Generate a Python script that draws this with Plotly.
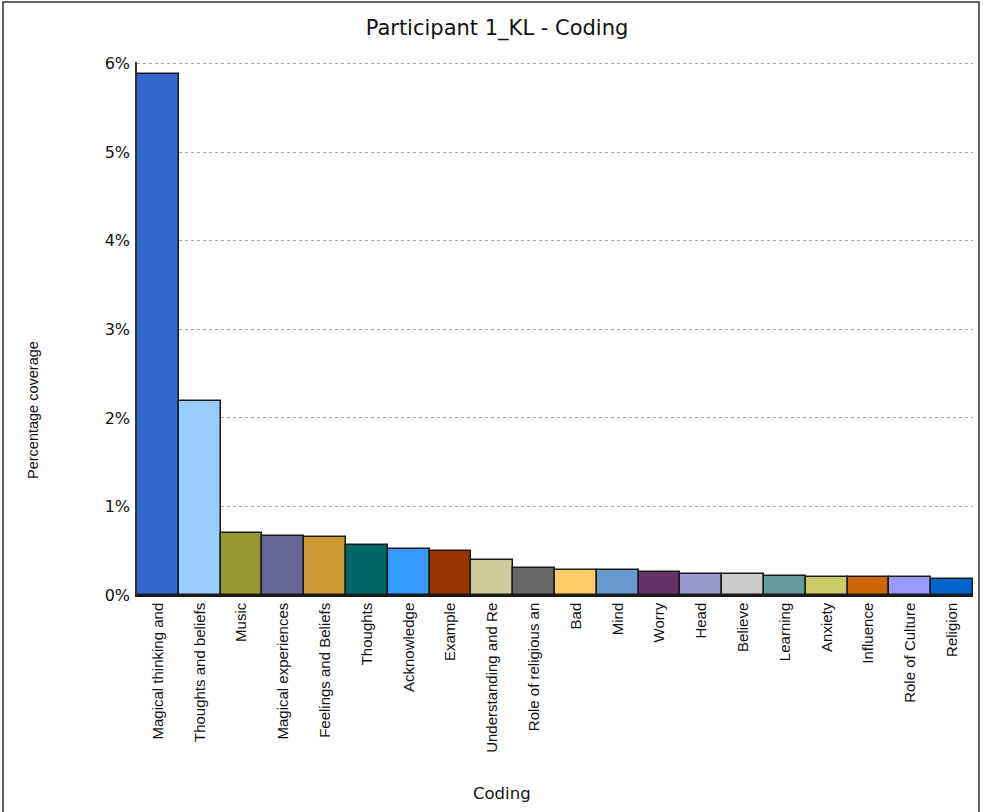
import plotly.graph_objects as go

# Coding nodes and their percentage coverage for the participant
categories = [
    "Magical thinking and", "Thoughts and beliefs", "Music", "Magical experiences",
    "Feelings and Beliefs", "Thoughts", "Acknowledge", "Example",
    "Understanding and Re", "Role of religious an", "Bad", "Mind", "Worry",
    "Head", "Believe", "Learning", "Anxiety", "Influence", "Role of Culture",
    "Religion",
]
coverage = [
    5.88, 2.19, 0.70, 0.67, 0.65, 0.57, 0.52, 0.50, 0.39, 0.31,
    0.28, 0.28, 0.26, 0.24, 0.24, 0.22, 0.20, 0.20, 0.20, 0.18,
]
bar_colors = [
    "#3366CC", "#99CCFF", "#999933", "#666699", "#CC9933", "#006666",
    "#3399FF", "#993300", "#CCCC99", "#666666", "#FFCC66", "#6699CC",
    "#663366", "#9999CC", "#CCCCCC", "#669999", "#CCCC66", "#CC6600",
    "#9999FF", "#0066CC",
]
y_ticks = [0, 1, 2, 3, 4, 5, 6]
y_tick_labels = ["0%", "1%", "2%", "3%", "4%", "5%", "6%"]

FONT_V = "Liberation Sans, Arial, sans-serif"   # rotated text
FONT_H = "DejaVu Sans, Verdana, sans-serif"      # horizontal text
TXT = "#111111"

W, H = 983, 812
L, R, T, B = 137, 10, 62, 217
pw, ph = W - L - R, H - T - B


def px_x(p):
    return (p - L) / pw


def px_y(p):
    return (H - B - p) / ph


fig = go.Figure(
    go.Bar(
        x=categories,
        y=coverage,
        marker=dict(color=bar_colors, line=dict(color="#1a1a1a", width=1.5)),
        hovertemplate="%{x}: %{y:.2f}%<extra></extra>",
    )
)

fig.update_layout(
    width=W,
    height=H,
    margin=dict(l=L, r=R, t=T, b=B, autoexpand=False),
    paper_bgcolor="white",
    plot_bgcolor="white",
    bargap=0,
    showlegend=False,
    font=dict(family=FONT_H, color=TXT),
    title=dict(
        text="Participant 1_KL - Coding",
        x=497 / W,
        xanchor="center",
        y=1 - 28 / H,
        yanchor="middle",
        font=dict(size=21, family=FONT_H, color=TXT),
    ),
)

fig.update_xaxes(
    tickangle=-90,
    tickfont=dict(size=15, family=FONT_V, color=TXT),
    showline=True,
    linecolor="#1a1a1a",
    linewidth=1.5,
    showgrid=False,
    ticks="",
    automargin=False,
)

fig.update_yaxes(
    range=[0, 6.02],
    tickvals=y_ticks,
    ticktext=y_tick_labels,
    tickfont=dict(size=16, family=FONT_H, color=TXT),
    showgrid=True,
    gridcolor="#a8a8a8",
    gridwidth=1,
    griddash="dot",
    showline=True,
    linecolor="#333333",
    linewidth=1.5,
    ticks="outside",
    ticklen=2,
    tickcolor="rgba(0,0,0,0)",
    zeroline=False,
    automargin=False,
)

# Axis titles placed as annotations in pixel-derived paper coordinates
fig.add_annotation(
    text="Percentage coverage",
    xref="paper", yref="paper",
    x=px_x(33), y=px_y(410),
    xanchor="center", yanchor="middle",
    textangle=-90, showarrow=False,
    font=dict(size=14.5, family=FONT_V, color=TXT),
)
fig.add_annotation(
    text="Coding",
    xref="paper", yref="paper",
    x=px_x(502), y=px_y(793),
    xanchor="center", yanchor="middle",
    showarrow=False,
    font=dict(size=16.5, family=FONT_H, color=TXT),
)

# Outer frame around the chart
fig.add_shape(
    type="rect",
    xref="paper", yref="paper",
    x0=px_x(3), x1=px_x(979), y0=px_y(830), y1=px_y(2),
    line=dict(color="#333333", width=1.5),
    fillcolor="rgba(0,0,0,0)",
    layer="below",
)

fig.write_html("out.html")
